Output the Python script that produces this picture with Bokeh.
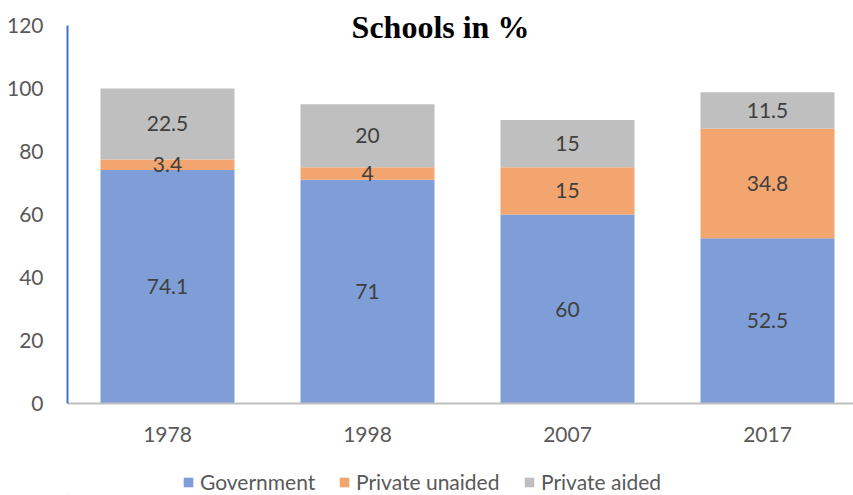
from bokeh.plotting import figure
from bokeh.models import ColumnDataSource, Legend, LegendItem, Label, FixedTicker, LabelSet
from bokeh.layouts import column
from bokeh.core.properties import value
from bokeh.embed import file_html
from bokeh.resources import INLINE

years = ["1978", "1998", "2007", "2017"]
government = [74.1, 71, 60, 52.5]
private_unaided = [3.4, 4, 15, 34.8]
private_aided = [22.5, 20, 15, 11.5]
series_names = ["Government", "Private unaided", "Private aided"]
colors = ["#7F9ED7", "#F3A56F", "#BFBFBF"]
y_ticks = [0, 20, 40, 60, 80, 100, 120]

xs = list(range(len(years)))
b1 = [0] * len(years)
t1 = [g for g in government]
t2 = [g + u for g, u in zip(government, private_unaided)]
t3 = [a + b for a, b in zip(t2, private_aided)]

src = ColumnDataSource(dict(
    x=xs, b1=b1, t1=t1, t2=t2, t3=t3,
    m1=[(a + b) / 2 for a, b in zip(b1, t1)],
    m2=[(a + b) / 2 for a, b in zip(t1, t2)],
    m3=[(a + b) / 2 for a, b in zip(t2, t3)],
    l1=[f"{v:g}" for v in government],
    l2=[f"{v:g}" for v in private_unaided],
    l3=[f"{v:g}" for v in private_aided],
))

p = figure(width=853, height=455, output_backend="svg", toolbar_location=None,
           x_range=(-0.5, 3.43), y_range=(0, 127.94),
           min_border_left=67, min_border_right=0, min_border_top=0, min_border_bottom=52)
p.outline_line_color = None
p.xgrid.visible = False
p.ygrid.visible = False
p.background_fill_color = "white"
p.border_fill_color = "white"

r1 = p.vbar(x="x", width=0.67, bottom="b1", top="t1", source=src, fill_color=colors[0], line_color=None)
r2 = p.vbar(x="x", width=0.67, bottom="t1", top="t2", source=src, fill_color=colors[1], line_color=None)
r3 = p.vbar(x="x", width=0.67, bottom="t2", top="t3", source=src, fill_color=colors[2], line_color=None)

for m, l in (("m1", "l1"), ("m2", "l2"), ("m3", "l3")):
    p.add_layout(LabelSet(x="x", y=m, text=l, source=src, text_align="center",
                          text_baseline="middle", text_font=value("Lato"),
                          text_font_size="21px", text_color="#404040"))

# axes
p.yaxis.ticker = FixedTicker(ticks=y_ticks)
p.yaxis.bounds = (0, 120)
p.yaxis.major_tick_line_color = None
p.yaxis.minor_tick_line_color = None
p.yaxis.axis_line_color = "#4472C4"
p.yaxis.axis_line_width = 2
p.yaxis.major_label_standoff = 18
p.yaxis.major_label_text_font = "Lato"
p.yaxis.major_label_text_font_size = "21px"
p.yaxis.major_label_text_color = "#595959"

p.xaxis.ticker = FixedTicker(ticks=xs)
p.xaxis.major_label_overrides = {i: y for i, y in zip(xs, years)}
p.xaxis.major_tick_line_color = None
p.xaxis.minor_tick_line_color = None
p.xaxis.axis_line_color = "#BFBFBF"
p.xaxis.axis_line_width = 2
p.xaxis.major_label_standoff = 17
p.xaxis.major_label_text_font = "Lato"
p.xaxis.major_label_text_font_size = "21px"
p.xaxis.major_label_text_color = "#595959"

title = Label(x=1.365, y=119.4, text="Schools in %", text_align="center",
              text_baseline="middle", text_font="Liberation Serif",
              text_font_style="bold", text_font_size="32px", text_color="black")
p.add_layout(title)

# legend strip (its frame is aligned with the main frame, starting 67px in)
lf = figure(width=853, height=40, output_backend="svg", toolbar_location=None,
            x_range=(0, 786), y_range=(0, 40),
            min_border_left=67, min_border_right=0, min_border_top=0, min_border_bottom=0)
lf.outline_line_color = None
lf.xaxis.visible = False
lf.yaxis.visible = False
lf.xgrid.visible = False
lf.ygrid.visible = False
legend_x = [115, 271, 456]
for name, c, lx in zip(series_names, colors, legend_x):
    rr = lf.vbar(x=[-1000], top=[1], width=1, fill_color=c, line_color=None)
    lg = Legend(items=[LegendItem(label=name, renderers=[rr])], location=(lx, 1),
                orientation="horizontal", glyph_width=12, glyph_height=12,
                label_standoff=6, padding=0, margin=0, spacing=0,
                label_text_font="Lato", label_text_font_size="21px",
                label_text_color="#595959", border_line_color=None,
                background_fill_alpha=0, label_height=16)
    lf.add_layout(lg, "center")

layout = column(p, lf, spacing=0)
open("out.html", "w").write(file_html(layout, INLINE))
